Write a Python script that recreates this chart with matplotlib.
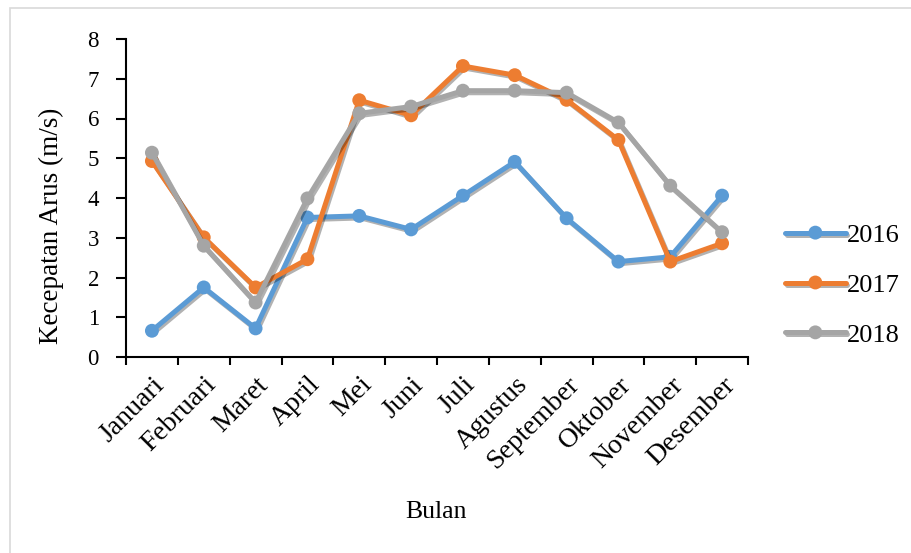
import matplotlib
matplotlib.use("Agg")
import matplotlib.pyplot as plt
import matplotlib.patheffects as pe
from matplotlib.patches import Rectangle
from matplotlib.transforms import ScaledTranslation

months = ["Januari", "Februari", "Maret", "April", "Mei", "Juni", "Juli",
          "Agustus", "September", "Oktober", "November", "Desember"]
v2016 = [0.66, 1.75, 0.72, 3.51, 3.55, 3.21, 4.06, 4.91, 3.49, 2.40, 2.52, 4.06]
v2017 = [4.93, 3.01, 1.75, 2.46, 6.46, 6.08, 7.32, 7.09, 6.47, 5.46, 2.40, 2.86]
v2018 = [5.14, 2.80, 1.37, 3.99, 6.13, 6.30, 6.70, 6.70, 6.65, 5.90, 4.31, 3.14]
series = [("2016", v2016, "#5B9BD5"), ("2017", v2017, "#ED7D31"), ("2018", v2018, "#A5A5A5")]

plt.rcParams['font.family'] = ['Liberation Serif', 'DejaVu Serif']

W, H = 911, 553
fig = plt.figure(figsize=(W / 100, H / 100), dpi=100)
fig.patches.append(Rectangle((9.5 / W, -0.1), 2.0, (H - 8.5) / H + 0.1, transform=fig.transFigure,
                             fill=False, edgecolor="#D9D9D9", linewidth=1.2))

ax = fig.add_axes([126 / W, 1 - 357 / H, (748 - 126) / W, (357 - 39) / H])
x = list(range(len(months)))
shadow = [pe.SimpleLineShadow(offset=(1.2, -1.5), shadow_color="black", alpha=0.3), pe.Normal()]
for name, vals, col in series:
    ax.plot(x, vals, color=col, linewidth=3.6, marker="o", markersize=10,
            markeredgewidth=0, label=name, path_effects=shadow, solid_capstyle="round",
            solid_joinstyle="round")

ax.set_xlim(-0.5, len(months) - 0.5)
ax.set_ylim(0, 8)
ax.set_yticks(range(0, 9))
ax.set_xticks([i - 0.5 for i in range(len(months) + 1)])
ax.set_xticklabels([])
ax.set_xticks(x, minor=True)
ax.set_xticklabels(months, minor=True, rotation=45, ha="right", rotation_mode="anchor",
                   fontsize=20)
for lbl in ax.get_xticklabels(minor=True):
    lbl.set_transform(lbl.get_transform() + ScaledTranslation(5 / 100, 0, fig.dpi_scale_trans))
ax.tick_params(axis="x", which="minor", length=0, pad=11)
ax.tick_params(axis="x", which="major", direction="out", length=6, width=1.5, color="black")
ax.tick_params(axis="y", direction="out", length=7, width=1.5, labelsize=16.5, pad=12.5)
for s in ["top", "right"]:
    ax.spines[s].set_visible(False)
for s in ["left", "bottom"]:
    ax.spines[s].set_linewidth(1.5)

ax.set_ylabel("Kecepatan Arus (m/s)", fontsize=19.5)
ax.yaxis.set_label_coords((64 - 126) / 622, (357 - 226) / 318)
fig.text(436 / W, 1 - 512 / H, "Bulan", fontsize=18.5, ha="center", va="center")

leg = ax.legend(loc="center left", bbox_to_anchor=(785 / W, 1 - 285 / H),
                bbox_transform=fig.transFigure, frameon=False, fontsize=19,
                handlelength=2.3, handletextpad=0.05, labelspacing=1.0, borderaxespad=0,
                borderpad=0)

fig.savefig("out.png", dpi=100)
